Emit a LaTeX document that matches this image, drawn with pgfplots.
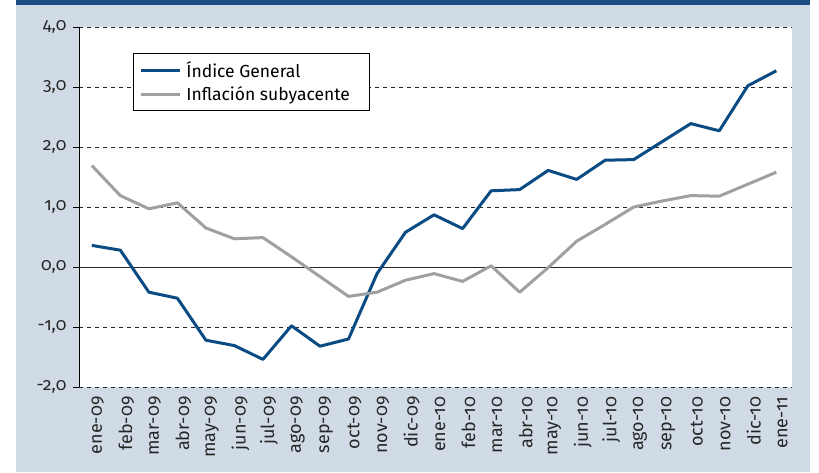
\documentclass[border=0pt]{standalone}
\usepackage{fontspec}
\setmainfont{Fira Sans}[Numbers=OldStyle]
\usepackage{pgfplots}
\pgfplotsset{compat=1.18}
\definecolor{bgc}{HTML}{D0DBE6}
\definecolor{barc}{HTML}{1C4E85}
\definecolor{ig}{HTML}{0A4B83}
\definecolor{inf}{HTML}{A0A0A0}
\begin{document}
\begin{tikzpicture}[x=1pt,y=1pt]
\fill[white] (0,0) rectangle (819,472);
\fill[bgc] (16,0) rectangle (810,467);
\fill[barc] (16,467) rectangle (810,472);
\begin{axis}[at={(79pt,85pt)}, anchor=south west, scale only axis,
  width=713pt, height=360pt,
  xmin=-0.45, xmax=24.55, ymin=-2, ymax=4,
  axis background/.style={fill=white},
  axis x line*=bottom, axis y line*=left,
  x axis line style={draw=none},
  y axis line style={-, black, line width=0.9pt},
  xtick={0,...,24},
  xticklabels={ene-09,feb-09,mar-09,abr-09,may-09,jun-09,jul-09,ago-09,sep-09,oct-09,nov-09,dic-09,ene-10,feb-10,mar-10,abr-10,may-10,jun-10,jul-10,ago-10,sep-10,oct-10,nov-10,dic-10,ene-11},
  x tick label style={rotate=90, anchor=east, font=\fontsize{18}{20}\selectfont, color=black!85, yshift=-6pt},
  major x tick style={draw=none},
  ytick={-2,...,4},
  yticklabels={{-2,0},{-1,0},{0,0},{1,0},{2,0},{3,0},{4,0}},
  y tick label style={font=\fontsize{17.5}{19}\selectfont, color=black!85, xshift=-3pt},
  major y tick style={black, line width=0.9pt},
  tick align=outside, major tick length=6pt,
  ymajorgrids, major grid style={dash pattern=on 4pt off 4pt, black!85, line width=0.8pt},
  legend cell align=left,
  legend style={at={(0.0757,0.928)}, anchor=north west, draw=black, line width=0.8pt,
    font=\fontsize{17.5}{20}\selectfont, inner xsep=6pt, inner ysep=6pt, row sep=4pt,
    nodes={inner xsep=5pt, inner ysep=2pt}},
  legend image code/.code={\draw[#1, line width=3pt] (0pt,0pt) -- (39pt,0pt);},
]
\addplot[forget plot, black!85, line width=1pt] coordinates {(-0.45,0) (24.55,0)};
\addplot[ig, line width=3pt, line join=round] coordinates {
(0,0.36) (1,0.28) (2,-0.42) (3,-0.52) (4,-1.22) (5,-1.31) (6,-1.54) (7,-0.98)
(8,-1.32) (9,-1.20) (10,-0.11) (11,0.58) (12,0.87) (13,0.64) (14,1.27) (15,1.29)
(16,1.61) (17,1.46) (18,1.78) (19,1.79) (20,2.09) (21,2.39) (22,2.27) (23,3.02) (24,3.27)};
\addplot[inf, line width=3pt, line join=round] coordinates {
(0,1.69) (1,1.19) (2,0.97) (3,1.07) (4,0.65) (5,0.47) (6,0.49) (7,0.17)
(8,-0.16) (9,-0.49) (10,-0.42) (11,-0.22) (12,-0.11) (13,-0.24) (14,0.02) (15,-0.42)
(16,-0.01) (17,0.43) (18,0.71) (19,1.00) (20,1.10) (21,1.19) (22,1.18) (23,1.38) (24,1.58)};
\legend{Índice General, \makebox[172pt][l]{Inflación subyacente}}
\end{axis}
\end{tikzpicture}
\end{document}
